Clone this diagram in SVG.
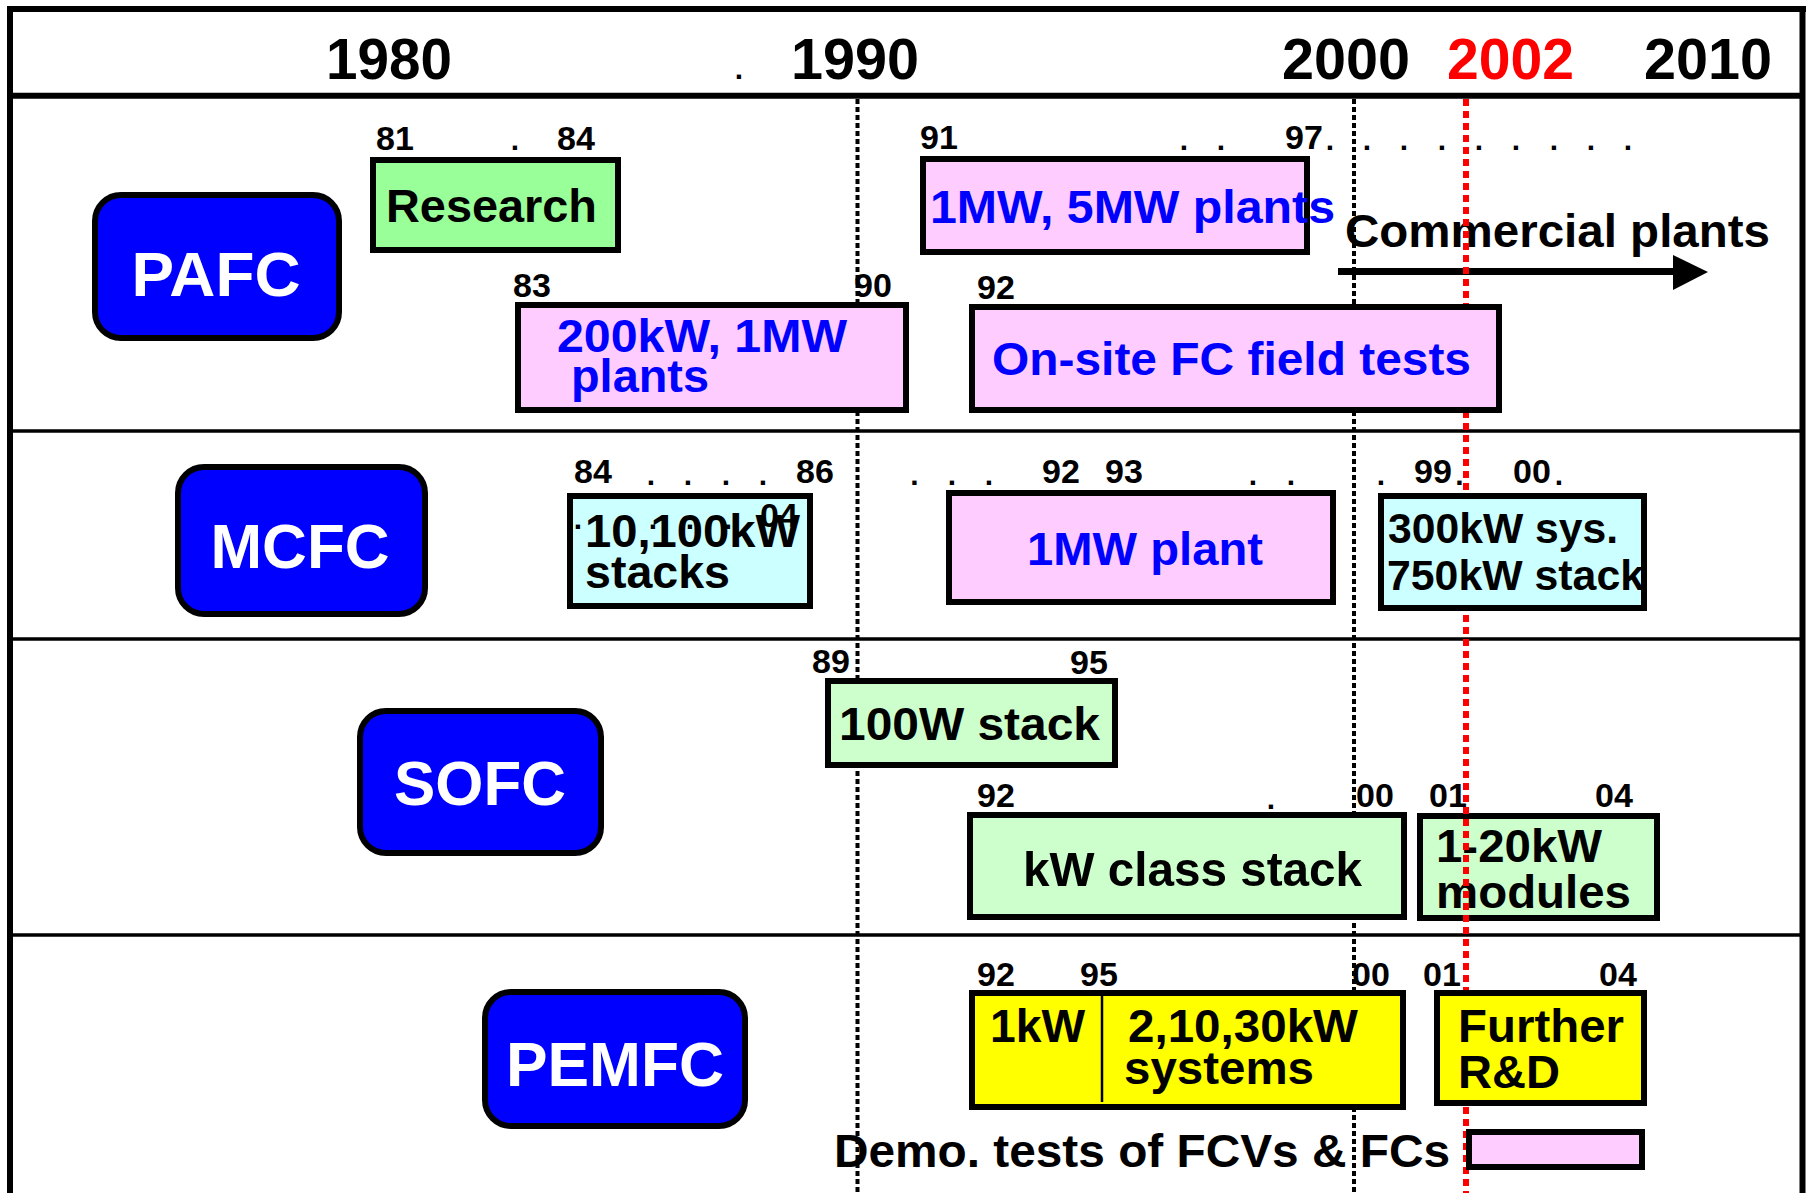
<svg xmlns="http://www.w3.org/2000/svg" width="1809" height="1193" viewBox="0 0 1809 1193">
<defs>
<style>
text{font-family:"Liberation Sans",Arial,sans-serif;font-weight:bold;fill:#000}
.hdr{font-size:57px}
.lbl{font-size:34px}
.dot{font-size:30px;text-anchor:middle}
.bt{font-size:47px}
.blue{fill:#0000FF}
.nt{font-size:63px;fill:#fff;text-anchor:middle}
.node{fill:#0000FF;stroke:#000;stroke-width:6}
.box{stroke:#000;stroke-width:6}
.g1{fill:#99FF99}
.g2{fill:#CCFFCC}
.cy{fill:#CCFFFF}
.pk{fill:#FFCCFF}
.ye{fill:#FFFF00}
.frame{stroke:#000;stroke-width:6;fill:none}
.sep{stroke:#000;stroke-width:3.5}
.grid{stroke:#000;stroke-width:4;stroke-dasharray:5 3}
.red{stroke:#FF0000;stroke-width:6;stroke-dasharray:7 5}
</style>
<marker id="ah" markerWidth="6" markerHeight="6" refX="0" refY="3" orient="auto" markerUnits="userSpaceOnUse" viewBox="0 0 6 6"><path d="M0,0 L6,3 L0,6 Z" fill="#000"/></marker>
</defs>
<rect width="1809" height="1193" fill="#fff"/>

<g id="frame">
<line class="frame" x1="7" y1="9" x2="1806" y2="9"/>
<line class="frame" x1="10" y1="6" x2="10" y2="1193"/>
<line class="frame" x1="1802.5" y1="6" x2="1802.5" y2="1193"/>
<line class="frame" x1="10" y1="95.7" x2="1800" y2="95.7"/>
<line class="sep" x1="10" y1="431" x2="1802" y2="431"/>
<line class="sep" x1="10" y1="639" x2="1802" y2="639"/>
<line class="sep" x1="10" y1="935" x2="1802" y2="935"/>
</g>

<g id="header">
<text class="hdr" x="326" y="79" textLength="126" lengthAdjust="spacingAndGlyphs">1980</text>
<text class="dot" x="739" y="79">.</text>
<text class="hdr" x="791" y="79" textLength="128" lengthAdjust="spacingAndGlyphs">1990</text>
<text class="hdr" x="1282" y="79" textLength="128" lengthAdjust="spacingAndGlyphs">2000</text>
<text class="hdr" x="1447" y="79" textLength="127" lengthAdjust="spacingAndGlyphs" style="fill:#FF0000">2002</text>
<text class="hdr" x="1644" y="79" textLength="128" lengthAdjust="spacingAndGlyphs">2010</text>
</g>

<g id="year-labels">
<text class="lbl" x="376" y="150">81</text>
<text class="dot" x="515" y="150">.</text>
<text class="lbl" x="557" y="150">84</text>
<text class="lbl" x="513" y="297">83</text>
<text class="lbl" x="854" y="297">90</text>
<text class="lbl" x="920" y="149">91</text>
<text class="dot" x="1184 1221" y="150">..</text>
<text class="lbl" x="1285" y="149">97</text>
<text class="dot" x="1330 1367 1404 1442 1479 1516 1554 1591 1628" y="150">.........</text>
<text class="lbl" x="977" y="299">92</text>

<text class="lbl" x="574" y="483">84</text>
<text class="dot" x="651 688 726 763" y="485">....</text>
<text class="lbl" x="796" y="483">86</text>
<text class="dot" x="914.5 952 989" y="485">...</text>
<text class="lbl" x="1042" y="483">92</text>
<text class="lbl" x="1105" y="483">93</text>
<text class="dot" x="1253 1291 1381" y="485">...</text>
<text class="lbl" x="1414" y="483">99</text>
<text class="dot" x="1459.5" y="485">.</text>
<text class="lbl" x="1513" y="483">00</text>
<text class="dot" x="1559" y="485">.</text>

<text class="lbl" x="812" y="673">89</text>
<text class="lbl" x="1070" y="674">95</text>
<text class="lbl" x="977" y="807">92</text>
<text class="dot" x="1271" y="809">.</text>
<text class="lbl" x="1356" y="807">00</text>
<text class="lbl" x="1429" y="807">01</text>
<text class="lbl" x="1595" y="807">04</text>

<text class="lbl" x="977" y="986">92</text>
<text class="lbl" x="1080" y="986">95</text>
<text class="lbl" x="1352" y="986">00</text>
<text class="lbl" x="1423" y="986">01</text>
<text class="lbl" x="1599" y="986">04</text>
</g>

<text class="bt" x="1345" y="247" textLength="425" lengthAdjust="spacingAndGlyphs" style="font-size:46px">Commercial plants</text>
<text class="bt" x="834" y="1167" textLength="616" lengthAdjust="spacingAndGlyphs" style="font-size:46px">Demo. tests of FCVs &amp; FCs</text>

<g id="connectors">
<line x1="1338" y1="271.5" x2="1674" y2="271.5" stroke="#000" stroke-width="7"/>
<path d="M1673,255 L1708,272 L1673,290 Z" fill="#000"/>
</g>

<g id="gridlines">
<line class="grid" x1="857.5" y1="99" x2="857.5" y2="1193"/>
<line class="grid" x1="1354" y1="99" x2="1354" y2="1193"/>
</g>

<g id="sofc-modules">
<rect class="box g2" x="1420" y="816" width="237" height="102"/>
<text class="bt" x="1436" y="862" textLength="166" lengthAdjust="spacingAndGlyphs">1-20kW</text>
<text class="bt" x="1436" y="908" textLength="195" lengthAdjust="spacingAndGlyphs">modules</text>
</g>

<g id="redline">
<line class="red" x1="1466" y1="99" x2="1466" y2="1193"/>
</g>

<g id="pafc">
<rect class="node" x="95" y="195" width="244" height="143" rx="26"/>
<text class="nt" x="216" y="296" textLength="169" lengthAdjust="spacingAndGlyphs">PAFC</text>
</g>
<g id="pafc-research">
<rect class="box g1" x="373" y="160" width="245" height="90"/>
<text class="bt" x="386" y="222" textLength="211" lengthAdjust="spacingAndGlyphs">Research</text>
</g>
<g id="pafc-200kw">
<rect class="box pk" x="518" y="305" width="388" height="105"/>
<text class="bt blue" x="557" y="352" textLength="290" lengthAdjust="spacingAndGlyphs">200kW, 1MW</text>
<text class="bt blue" x="571" y="392" textLength="138" lengthAdjust="spacingAndGlyphs">plants</text>
</g>
<g id="pafc-1mw5mw">
<rect class="box pk" x="923" y="159" width="384" height="93"/>
<text class="bt blue" x="930" y="223" textLength="405" lengthAdjust="spacingAndGlyphs">1MW, 5MW plants</text>
</g>
<g id="pafc-onsite">
<rect class="box pk" x="972" y="307" width="527" height="103"/>
<text class="bt blue" x="992" y="375" textLength="479" lengthAdjust="spacingAndGlyphs">On-site FC field tests</text>
</g>

<g id="mcfc">
<rect class="node" x="178" y="467" width="247" height="147" rx="26"/>
<text class="nt" x="300" y="568" textLength="179" lengthAdjust="spacingAndGlyphs">MCFC</text>
</g>
<g id="mcfc-stacks">
<rect class="box cy" x="570" y="496" width="240" height="110"/>
<text class="dot" x="578 616 653 690 728" y="529">.....</text>
<text class="lbl" x="760" y="527">04</text>
<text class="bt" x="585" y="547" textLength="215" lengthAdjust="spacingAndGlyphs">10,100kW</text>
<text class="bt" x="585" y="588" textLength="145" lengthAdjust="spacingAndGlyphs">stacks</text>
</g>
<g id="mcfc-1mw">
<rect class="box pk" x="949" y="493" width="384" height="109"/>
<text class="bt blue" x="1027" y="565" textLength="236" lengthAdjust="spacingAndGlyphs">1MW plant</text>
</g>
<g id="mcfc-300kw">
<rect class="box cy" x="1381" y="496" width="263" height="112"/>
<text class="bt" x="1388" y="543" textLength="230" lengthAdjust="spacingAndGlyphs" style="font-size:43px">300kW sys.</text>
<text class="bt" x="1387" y="590" textLength="257" lengthAdjust="spacingAndGlyphs" style="font-size:43px">750kW stack</text>
</g>

<g id="sofc">
<rect class="node" x="360" y="711" width="241" height="142" rx="26"/>
<text class="nt" x="480" y="805" textLength="172" lengthAdjust="spacingAndGlyphs">SOFC</text>
</g>
<g id="sofc-100w">
<rect class="box g2" x="828" y="681" width="287" height="84"/>
<text class="bt" x="839" y="740" textLength="261" lengthAdjust="spacingAndGlyphs">100W stack</text>
</g>
<g id="sofc-kwclass">
<rect class="box g2" x="970" y="815" width="434" height="102"/>
<text class="bt" x="1023" y="886" textLength="339" lengthAdjust="spacingAndGlyphs" style="font-size:49px">kW class stack</text>
</g>

<g id="pemfc">
<rect class="node" x="485" y="992" width="260" height="134" rx="26"/>
<text class="nt" x="615" y="1086" textLength="218" lengthAdjust="spacingAndGlyphs">PEMFC</text>
</g>
<g id="pemfc-systems">
<rect class="box ye" x="972" y="993" width="431" height="114"/>
<line x1="1102" y1="996" x2="1102" y2="1102" stroke="#000" stroke-width="2.5"/>
<text class="bt" x="990" y="1042" textLength="95" lengthAdjust="spacingAndGlyphs">1kW</text>
<text class="bt" x="1128" y="1042" textLength="230" lengthAdjust="spacingAndGlyphs">2,10,30kW</text>
<text class="bt" x="1124" y="1084" textLength="190" lengthAdjust="spacingAndGlyphs">systems</text>
</g>
<g id="pemfc-further">
<rect class="box ye" x="1437" y="993" width="207" height="110"/>
<text class="bt" x="1458" y="1042" textLength="166" lengthAdjust="spacingAndGlyphs">Further</text>
<text class="bt" x="1458" y="1088" textLength="102" lengthAdjust="spacingAndGlyphs">R&amp;D</text>
</g>
<g id="legend">
<rect class="box pk" x="1469" y="1132" width="173" height="35"/>
</g>
</svg>
